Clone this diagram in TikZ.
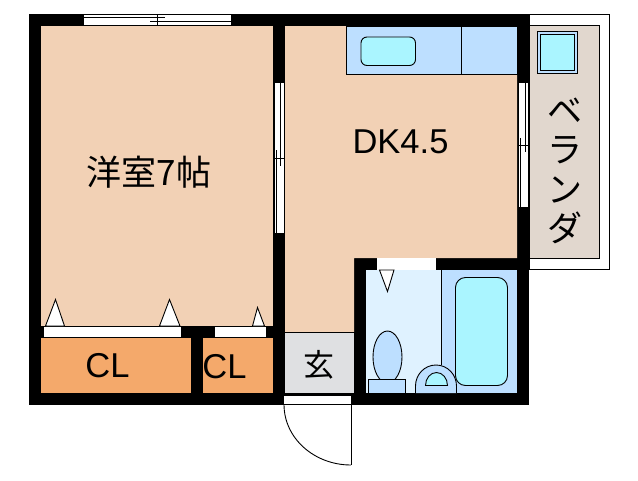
\documentclass[tikz,border=0pt]{standalone}
\usepackage{fontspec}
\setmainfont{Liberation Sans}
\newfontfamily\jpfont{Noto Sans CJK JP}
\usepackage{xcolor}
\definecolor{roomcol}{HTML}{F2D1B5}
\definecolor{closetcol}{HTML}{F4A96B}
\definecolor{entrycol}{HTML}{DFE0E2}
\definecolor{fixturecol}{HTML}{BDDFFF}
\definecolor{basincol}{HTML}{AAF5FF}
\definecolor{washcol}{HTML}{DFF2FF}
\definecolor{balconycol}{HTML}{E1D7CE}
\tikzset{
    thinline/.style={draw=black,line width=0.9pt},
    fixture/.style={thinline,fill=fixturecol},
    basin/.style={thinline,fill=basincol},
    opening/.style={thinline,fill=white},
    roomlabel/.style={inner sep=0pt,font=\fontsize{34.5}{34.5}\selectfont},
    jplabel/.style={inner sep=0pt,font=\jpfont\fontsize{33}{33}\selectfont},
}

\begin{document}
\begin{tikzpicture}[x=1pt,y=-1pt]
    \useasboundingbox (0,0) rectangle (638,480);
    % balcony
    \draw[thinline,fill=white] (529,14) rectangle (609,269);
    \draw[thinline,fill=balconycol] (529,25) rectangle (599,258);
    \draw[fixture] (537.5,31.5) rectangle (577,73);
    \draw[basin] (540.5,34.5) rectangle (574.5,70.5);
    % walls, rooms on top
    \fill (29,14) rectangle (529,405);
    \fill[roomcol] (41,26) rectangle (273,326);
    \fill[roomcol] (285,26) -- (517,26) -- (517,258) -- (354,258) -- (354,332) -- (285,332) -- cycle;
    \fill[closetcol] (41,338) rectangle (191,393);
    \fill[closetcol] (203,338) rectangle (273,393);
    \draw[thinline,fill=entrycol] (285,332) -- (354,332) -- (354,393) -- (285,393);
    % kitchen
    \draw[fixture] (346,26) rectangle (517,74);
    \draw[thinline] (461,26) -- (461,74);
    \draw[basin,rounded corners=6pt] (361,37) rectangle (415.5,65.5);
    % bath
    \fill[fixturecol] (366,270) rectangle (517,393);
    \fill[washcol] (366,270) rectangle (441.5,393);
    \draw[thinline] (441.5,270) -- (441.5,365);
    \draw[basin,rounded corners=10pt] (455.5,277.5) rectangle (507.5,385.5);
    \draw[fixture] (387.5,357) ellipse (14.5 and 26);
    \draw[fixture] (368.5,393) -- (368.5,379.5) -- (405.5,379.5) -- (405.5,393);
    \draw[fixture] (415.5,393) -- (415.5,386) arc[start angle=180,end angle=0,x radius=20.5,y radius=-21] -- (456.5,393);
    \draw[basin] (425.5,385.5) arc[start angle=180,end angle=0,x radius=11,y radius=-13] -- cycle;
    % windows
    \fill[white] (84,14) rectangle (230.5,26);
    \draw[thinline] (84,14.5) -- (230.5,14.5);
    \draw[thinline] (84,25) -- (230.5,25);
    \draw[thinline] (84,17) -- (165,17);
    \draw[thinline] (150,21.5) -- (230.5,21.5);
    \draw[thinline] (157.5,14) -- (157.5,25);
    \fill[white] (273.5,82.5) rectangle (285,232.5);
    \draw[thinline] (274,82.5) -- (274,232.5);
    \draw[thinline] (284.5,82.5) -- (284.5,232.5);
    \draw[thinline] (276.5,150) -- (276.5,232.5);
    \draw[thinline] (280.5,82.5) -- (280.5,165.5);
    \draw[thinline] (274,158.5) -- (284.5,158.5);
    \fill[white] (517.5,82.5) rectangle (529,206.5);
    \draw[thinline] (518,82.5) -- (518,206.5);
    \draw[thinline] (528.5,82.5) -- (528.5,206.5);
    \draw[thinline] (520.5,138) -- (520.5,206.5);
    \draw[thinline] (525.5,82.5) -- (525.5,151.5);
    \draw[thinline] (518,145.5) -- (528.5,145.5);
    % closet and bath doors
    \draw[opening] (43,326) rectangle (181.5,337.5);
    \draw[opening] (214,326) rectangle (266.5,337.5);
    \draw[opening] (45.5,326) -- (55.5,299.5) -- (64.5,326) -- cycle;
    \draw[opening] (159.5,326) -- (169.5,299.5) -- (180,326) -- cycle;
    \draw[opening] (252.5,326) -- (257.5,307.5) -- (264.5,326) -- cycle;
    \fill[white] (377,258) rectangle (436,270);
    \draw[opening] (379.5,270) -- (387.5,291.5) -- (394,270) -- cycle;
    % entrance door
    \draw[opening] (283,395) rectangle (351,404.5);
    \draw[thinline] (351,404.5) -- (351,465);
    \draw[thinline] (284,404.5) .. controls (284,438) and (314,465) .. (351,465);
    % labels
    \node[jplabel,font=\jpfont\fontsize{35}{35}\selectfont] (yoshitsu) at (149,172) {洋室7帖};
    \node[roomlabel] (dk) at (400.5,142) {DK4.5};
    \node[roomlabel] (cl1) at (107.5,366) {CL};
    \node[roomlabel] (cl2) at (224.5,367) {CL};
    \node[jplabel,font=\jpfont\fontsize{31}{31}\selectfont] (genkan) at (319,365) {玄};
    \node[jplabel,align=center,font=\jpfont\fontsize{35}{39.5}\selectfont] (veranda) at (565,171) {ベ\\ラ\\ン\\ダ};
  \end{tikzpicture}
\end{document}
